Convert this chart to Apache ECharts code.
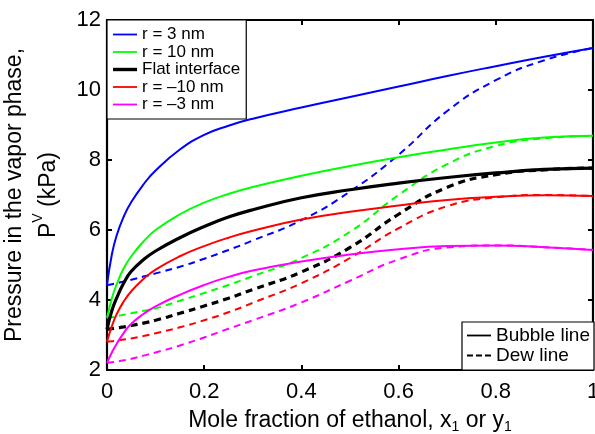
<!DOCTYPE html>
<html>
<head>
<meta charset="utf-8">
<script src="https://cdn.jsdelivr.net/npm/echarts@6/dist/echarts.min.js"></script>
<style>
	html, body { margin: 0; padding: 0; background: #fff; }
	#chart { width: 595px; height: 434px; }
</style>
</head>
<body>
<div id="chart"></div>
<script>
// 乙醇摩尔分数 (x1 或 y1)
var xFrac = [0, 0.01, 0.02, 0.035, 0.05, 0.075, 0.1, 0.15, 0.2, 0.25, 0.3, 0.4, 0.5, 0.6, 0.7, 0.8, 0.9, 1];

// 泡点线 (kPa)
var bubble3 = [4.43, 5.3, 5.85, 6.4, 6.8, 7.3, 7.7, 8.3, 8.72, 8.98, 9.18, 9.5, 9.8, 10.1, 10.4, 10.68, 10.95, 11.2];
var bubble10 = [3.49, 4.05, 4.45, 4.92, 5.25, 5.67, 6.0, 6.45, 6.78, 7.03, 7.23, 7.55, 7.83, 8.08, 8.3, 8.5, 8.64, 8.69];
var bubbleFlat = [3.16, 3.7, 4.06, 4.5, 4.82, 5.15, 5.4, 5.78, 6.1, 6.37, 6.58, 6.92, 7.15, 7.34, 7.5, 7.63, 7.73, 7.77];
var bubbleM10 = [2.81, 3.25, 3.6, 3.97, 4.25, 4.6, 4.87, 5.25, 5.54, 5.78, 5.98, 6.3, 6.52, 6.7, 6.86, 6.95, 6.99, 6.97];
var bubbleM3 = [2.21, 2.5, 2.75, 3.07, 3.32, 3.6, 3.82, 4.15, 4.43, 4.66, 4.84, 5.1, 5.3, 5.45, 5.54, 5.56, 5.51, 5.43];

// 露点线 (kPa)
var dew3 = [4.43, 4.45, 4.48, 4.53, 4.58, 4.67, 4.76, 4.95, 5.18, 5.43, 5.7, 6.28, 7.1, 8.15, 9.4, 10.28, 10.85, 11.2];
var dew10 = [3.49, 3.51, 3.54, 3.58, 3.62, 3.69, 3.76, 3.98, 4.2, 4.43, 4.68, 5.2, 5.95, 7.0, 7.88, 8.4, 8.62, 8.69];
var dewFlat = [3.16, 3.18, 3.2, 3.23, 3.27, 3.34, 3.42, 3.62, 3.83, 4.05, 4.3, 4.8, 5.5, 6.45, 7.22, 7.58, 7.72, 7.77];
var dewM10 = [2.81, 2.82, 2.84, 2.87, 2.9, 2.97, 3.05, 3.22, 3.42, 3.65, 3.92, 4.48, 5.2, 6.05, 6.68, 6.93, 7.0, 6.97];
var dewM3 = [2.21, 2.22, 2.24, 2.28, 2.32, 2.41, 2.5, 2.7, 2.93, 3.18, 3.42, 3.93, 4.55, 5.16, 5.5, 5.56, 5.51, 5.43];

var radiusNames = ['r = 3 nm', 'r = 10 nm', 'Flat interface', 'r = \u201310 nm', 'r = \u20133 nm'];
var styleNames = ['Bubble line', 'Dew line'];
var xTicks = [0, 0.2, 0.4, 0.6, 0.8, 1];
var yTicks = [2, 4, 6, 8, 10, 12];

var colors = ['#0000ff', '#00ff00', '#000000', '#ff0000', '#ff00ff'];
var widths = [2, 2, 3.2, 2, 2];
var FONT = 'Liberation Sans, Arial, sans-serif';

// 图例图标 (细线/粗线/虚线)
var ICON_THIN = 'path://M0,0H24V1.8H0Z';
var ICON_THICK = 'path://M0,0H24V3.4H0Z';
var ICON_DASH = 'path://M0,0H6V1.8H0Z M9,0H15V1.8H9Z M18,0H24V1.8H18Z';

createChart();

function zip(ys) {
	return xFrac.map(function (x, i) { return [x, ys[i]]; });
}

function createChart() {
	var chart = echarts.init(document.getElementById('chart'), null, { renderer: 'canvas' });
	var bubbles = [bubble3, bubble10, bubbleFlat, bubbleM10, bubbleM3];
	var dews = [dew3, dew10, dewFlat, dewM10, dewM3];
	var series = [];

	// 虚线 (露点)
	dews.forEach(function (d, i) {
		series.push({
			name: radiusNames[i] + ' dew',
			type: 'line',
			symbol: 'none',
			smooth: 0.5,
			data: zip(d),
			lineStyle: { color: colors[i], width: widths[i], type: [7, 5] },
			itemStyle: { color: colors[i] },
			z: 2
		});
	});
	// 实线 (泡点)
	bubbles.forEach(function (b, i) {
		series.push({
			name: radiusNames[i],
			type: 'line',
			symbol: 'none',
			smooth: 0.5,
			data: zip(b),
			lineStyle: { color: colors[i], width: widths[i] },
			itemStyle: { color: colors[i] },
			z: 3
		});
	});
	// 图例用
	series.push({
		name: styleNames[0], type: 'line', symbol: 'none', data: [],
		lineStyle: { color: '#000', width: 1.5 }, itemStyle: { color: '#000' }
	});
	series.push({
		name: styleNames[1], type: 'line', symbol: 'none', data: [],
		lineStyle: { color: '#000', width: 1.5, type: [6, 6] }, itemStyle: { color: '#000' }
	});

	var tickOpt = { show: true, inside: true, length: 5, lineStyle: { color: '#000', width: 2 } };
	var lineOpt = { show: true, onZero: false, lineStyle: { color: '#000', width: 2.2 } };

	var legend1Data = radiusNames.map(function (n, i) {
		return { name: n, icon: i === 2 ? ICON_THICK : ICON_THIN };
	});
	var legend2Data = [
		{ name: styleNames[0], icon: ICON_THIN },
		{ name: styleNames[1], icon: ICON_DASH }
	];

	var option = {
		animation: false,
		backgroundColor: '#fff',
		textStyle: { fontFamily: FONT, color: '#000' },
		grid: { left: 107, right: 2, top: 20, bottom: 64, outerBoundsMode: 'none', containLabel: false },
		legend: [{
			data: legend1Data,
			orient: 'vertical',
			left: 107,
			top: 20,
			padding: [6, 6, 6, 6],
			itemGap: 0.5,
			itemWidth: 24,
			itemHeight: 14,
			backgroundColor: '#fff',
			borderColor: '#000',
			borderWidth: 1.2,
			selectedMode: false,
			textStyle: { fontSize: 17, lineHeight: 17, color: '#000', fontFamily: FONT },
			z: 10
		}, {
			data: legend2Data,
			orient: 'vertical',
			right: 1,
			top: 322,
			padding: [4, 4, 5, 5],
			itemGap: 1,
			itemWidth: 24,
			itemHeight: 14,
			backgroundColor: '#fff',
			borderColor: '#000',
			borderWidth: 1.2,
			selectedMode: false,
			textStyle: { fontSize: 19, lineHeight: 19, color: '#000', fontFamily: FONT },
			z: 10
		}],
		xAxis: [{
			type: 'value',
			min: 0,
			max: 1,
			interval: 0.2,
			position: 'bottom',
			axisLine: lineOpt,
			axisTick: tickOpt,
			splitLine: { show: false },
			axisLabel: {
				fontSize: 22, color: '#000', margin: 11, fontFamily: FONT,
				formatter: function (v) { return xTicks.indexOf(+v.toFixed(1)) >= 0 ? String(+v.toFixed(1)) : ''; }
			},
			name: 'Mole fraction of ethanol, x{sub|1} or y{sub|1}',
			nameLocation: 'middle',
			nameGap: 36,
			nameTextStyle: {
				fontSize: 23, color: '#000', fontFamily: FONT, lineHeight: 26,
				rich: { sub: { fontSize: 14, verticalAlign: 'bottom', lineHeight: 20, fontFamily: FONT } }
			}
		}, {
			type: 'value',
			min: 0,
			max: 1,
			interval: 0.2,
			position: 'top',
			axisLine: lineOpt,
			axisTick: tickOpt,
			axisLabel: { show: false },
			splitLine: { show: false }
		}],
		yAxis: [{
			type: 'value',
			min: 2,
			max: 12,
			interval: 2,
			position: 'left',
			axisLine: lineOpt,
			axisTick: tickOpt,
			splitLine: { show: false },
			axisLabel: {
				fontSize: 22, color: '#000', margin: 6, fontFamily: FONT,
				formatter: function (v) { return yTicks.indexOf(v) >= 0 ? String(v) : ''; }
			},
			name: 'Pressure in the vapor phase,\n{b|P}{sup|V}{b| (kPa)}',
			nameLocation: 'middle',
			nameGap: 35,
			nameTextStyle: {
				fontSize: 23, color: '#000', fontFamily: FONT, lineHeight: 34, align: 'center',
				rich: {
					b: { fontSize: 23, fontFamily: FONT, lineHeight: 34 },
					sup: { fontSize: 14, verticalAlign: 'top', lineHeight: 24, fontFamily: FONT }
				}
			}
		}, {
			type: 'value',
			min: 2,
			max: 12,
			interval: 2,
			position: 'right',
			axisLine: lineOpt,
			axisTick: tickOpt,
			axisLabel: { show: false },
			splitLine: { show: false }
		}],
		series: series
	};

	chart.setOption(option, true);
}
</script>
</body>
</html>
